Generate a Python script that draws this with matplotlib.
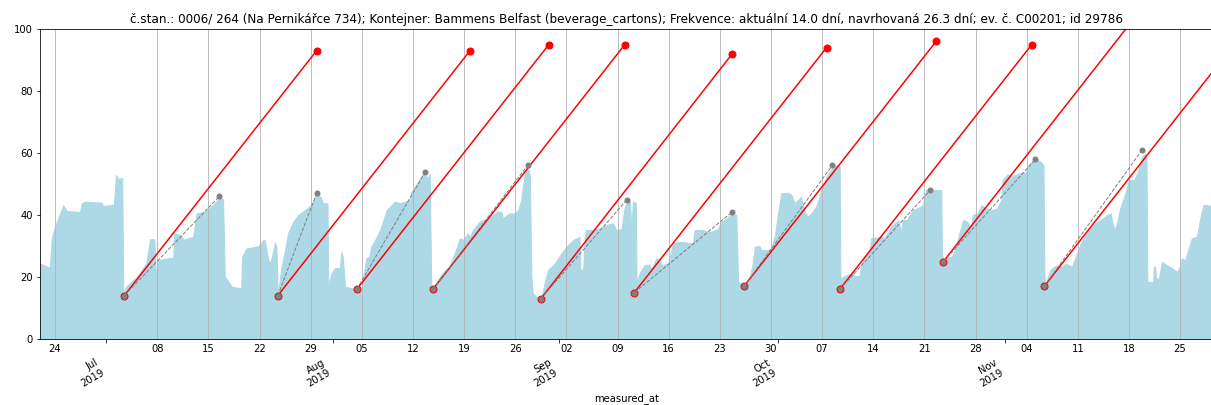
import pandas as pd
import matplotlib.pyplot as plt
import matplotlib.dates as mdates

t0 = pd.Timestamp("2019-06-24")

title = ("č.stan.: 0006/ 264 (Na Pernikářce 734); Kontejner: Bammens Belfast "
         "(beverage_cartons); Frekvence: aktuální 14.0 dní, navrhovaná 26.3 dní; "
         "ev. č. C00201; id 29786")

# measured fill level: days after t0, percent
level_day = [-2.1, -0.7, -0.45, 0, 0.68, 1.14, 1.6, 3.42, 3.65, 4.1, 6.39, 6.6, 8.07, 8.34, 8.7, 9.2,
             9.35, 9.71, 11.2, 12.5, 13.0, 13.6, 13.8, 14.1, 16.2, 16.3, 17.2, 17.55, 18.9, 19.4, 20.5,
             21.65, 22.6, 23.0, 23.25, 24.2, 25.5, 25.6, 26.2, 27.8, 28.5, 28.7, 29.2, 29.5, 30.1, 30.3,
             30.45, 30.5, 31.0, 31.5, 31.9, 32.6, 33.3, 34.2, 35.1, 35.8, 36.3, 36.7, 37.3, 37.4, 37.85,
             38.3, 39.0, 39.2, 39.4, 39.7, 41.3, 41.95, 42.6, 43.0, 43.3, 43.8, 44.5, 45.4, 46.5, 47.2,
             48.6, 48.8, 49.7, 50.4, 51.1, 51.3, 51.5, 51.7, 52.7, 53.4, 54.0, 54.5, 54.95, 55.4, 55.9,
             56.5, 56.8, 57.2, 58.1, 59.3, 60.0, 60.6, 61.1, 61.3, 62.2, 62.9, 63.4, 63.8, 64.3, 64.7,
             65.0, 65.2, 65.4, 65.9, 66.6, 67.0, 67.5, 68.4, 69.3, 70.0, 70.9, 71.8, 71.9, 72.3, 72.5,
             72.7, 73.6, 74.55, 75.5, 76.4, 76.8, 77.5, 78.0, 78.4, 78.7, 78.9, 79.1, 79.5, 79.6, 80.0,
             80.7, 81.4, 81.6, 82.3, 82.8, 83.0, 83.9, 84.6, 85.3, 87.3, 87.55, 88.7, 89.4, 90.05, 90.7,
             91.2, 91.9, 92.6, 93.25, 93.5, 94.3, 95.1, 95.5, 95.8, 96.4, 96.7, 97.6, 98.0, 98.5, 98.9,
             99.4, 100.3, 100.8, 101.2, 101.7, 102.1, 102.6, 103.05, 103.5, 104.2, 104.9, 105.6, 106.5,
             107.15, 107.4, 107.5, 107.6, 108.3, 109.2, 109.4, 110.1, 110.35, 110.8, 111.5, 111.7, 113.1,
             113.5, 114.5, 115.4, 115.8, 116.05, 116.6, 117.0, 117.4, 117.9, 118.8, 119.2, 121.3, 121.4,
             121.6, 122.0, 122.7, 123.1, 123.6, 124.3, 124.9, 125.4, 125.6, 126.3, 126.8, 127.4, 128.3,
             129.0, 129.5, 129.7, 130.4, 130.8, 131.7, 132.6, 132.8, 133.5, 134.2, 134.9, 135.3, 135.4,
             135.5, 136.25, 136.7, 137.4, 137.85, 138.3, 138.8, 139.2, 139.7, 140.4, 141.5, 142.4, 143.1,
             144.0, 144.5, 144.7, 145.0, 145.3, 145.8, 146.5, 147.0, 147.7, 148.3, 148.8, 149.2, 149.4,
             149.5, 150.3, 150.4, 150.6, 150.7, 151.1, 151.5, 152.2, 152.6, 153.55, 154.0, 154.2, 154.7,
             155.6, 156.3, 156.8, 157.2, 157.7, 158.6]
level_pct = [24.4, 23, 32.5, 36.2, 40.5, 43.2, 41.3, 41, 43.8, 44.3, 44, 42.9, 43.4, 52.9, 51.5, 52,
             14.2, 16.9, 20, 24.4, 32.2, 32.2, 20.3, 25.5, 26.3, 34.1, 33.5, 32, 33, 40.5, 41,
             43.2, 45.9, 45, 20.1, 16.9, 16.3, 26.5, 29.2, 29.9, 31.9, 31.9, 25.5, 24.4, 31.1, 29.9,
             18, 14, 23.3, 28.7, 34.1, 37.8, 40, 41.6, 43.2, 46.5, 46, 43.8, 43.8, 17.4, 21.2,
             22.8, 23, 28.2, 26.5, 16.9, 16, 16.3, 26, 26.5, 29.9, 31.9, 35.2, 41.6, 44.3, 43.8,
             44.8, 47.5, 50.7, 53.4, 52, 53.4, 16, 16, 20.1, 22.3, 23.3, 26.5, 29.2, 32.5, 32,
             34.1, 32.8, 35.2, 37.8, 38.9, 40, 41.1, 41.1, 39, 40.5, 40.5, 41.6, 44.8, 53.4, 56.1,
             52.4, 20.1, 14.7, 13.6, 13.2, 18, 22.3, 24.4, 27.6, 29.8, 31.9, 33, 22.3, 22.5, 33,
             35.2, 35.2, 35.7, 36.8, 37.3, 35.2, 35.4, 42.7, 44.8, 44.3, 35.2, 44.3, 43.8, 18, 21.2,
             23.9, 24, 22.5, 26, 25.5, 23.9, 24.2, 30.9, 31.4, 30.9, 35.2, 35.2, 34.5, 34.8, 35.4,
             37.8, 38.9, 40.5, 40, 18.5, 17, 20.1, 24.4, 29.8, 30, 28.7, 28.7, 29.2, 33, 39.5,
             47, 47.2, 46.5, 43.8, 44.8, 45.9, 41.1, 39.5, 40.5, 42.7, 48.1, 52.4, 55.6,
             56.1, 55.6, 20.1, 19.6, 20.5, 21.4, 20.3, 20.3, 23.9, 26.5, 28.7, 32.5, 33,
             32.5, 36.2, 38.4, 34.6, 38.4, 38.4, 40, 41.6, 42, 43.2, 48.1, 48.1, 27.6,
             25, 26.5, 26.5, 28.2, 32.5, 38.4, 37.8, 35.2, 40, 40.5, 43.2, 42.2, 41.6,
             42.2, 44.8, 51.3, 53.2, 52.4, 53.2, 53.8, 53.5, 56.7, 58.3, 57.2, 56.1, 23.3,
             17, 22.3, 23.3, 23.8, 23.3, 24.4, 23.8, 23.3, 26.5, 30.9, 35.2, 37.3, 38.4,
             40, 40.5, 37.8, 35.2, 36.8, 42.2, 47, 51.3, 51.3, 54.5, 58.8, 59.9, 58.3,
             18.5, 18.3, 23.3, 23.3, 19.5, 19.5, 24.9, 23.8, 23.3, 21.7, 23.3, 26, 25.5,
             32.5, 33, 39.5, 43.2, 43.2, 42.7]

# emptying points, predicted fill after 26.3 days, and measured peak before next emptying
low_day = [9.48, 30.5, 41.3, 51.7, 66.5, 79.3, 94.3, 107.4, 121.6, 135.4]
low_pct = [14, 14, 16, 16, 13, 15, 17, 16, 25, 17]
pred_day = [35.8, 56.8, 67.6, 78.0, 92.7, 105.6, 120.6, 133.7, 147.9, 161.7]
pred_pct = [93, 93, 95, 95, 92, 94, 96, 95, 104, 96]
peak_day = [22.5, 35.8, 50.7, 64.7, 78.3, 92.7, 106.4, 119.8, 134.2, 148.8]
peak_pct = [46, 47, 54, 56, 45, 41, 56, 48, 58, 61]


def to_date(days):
    return t0 + pd.to_timedelta(days, unit="D")


fig = plt.figure(figsize=(1211 / 72, 405 / 72), dpi=72)
ax = fig.add_axes([40 / 1211, 66 / 405, 1173 / 1211, 310 / 405])

ax.fill_between(to_date(level_day), level_pct, color="lightblue")

for i in range(len(low_day)):
    ax.plot(to_date([low_day[i], pred_day[i]]), [low_pct[i], pred_pct[i]],
            color="red", lw=1.5, marker="o", ms=7)
for i in range(len(low_day)):
    ax.plot(to_date([low_day[i], peak_day[i]]), [low_pct[i], peak_pct[i]],
            color="gray", ls="--", lw=1, marker="o", ms=5)

ax.set_xlim(to_date([-2.05, 158.5]))
ax.set_ylim(0, 100)

ax.xaxis.set_major_locator(mdates.MonthLocator())
ax.xaxis.set_major_formatter(mdates.DateFormatter("%b\n%Y"))
ax.xaxis.set_minor_locator(mdates.WeekdayLocator(byweekday=mdates.MO))
ax.xaxis.set_minor_formatter(mdates.DateFormatter("%d"))
ax.tick_params(axis="x", which="major", pad=15)
ax.tick_params(axis="x", which="minor", length=0, pad=5.5)
for lbl in ax.get_xticklabels():
    lbl.set_rotation(30)
    lbl.set_ha("right")

ax.grid(which="minor", axis="x")
ax.set_xlabel("measured_at")
ax.set_title(title)

fig.savefig("out.png", dpi=72)
